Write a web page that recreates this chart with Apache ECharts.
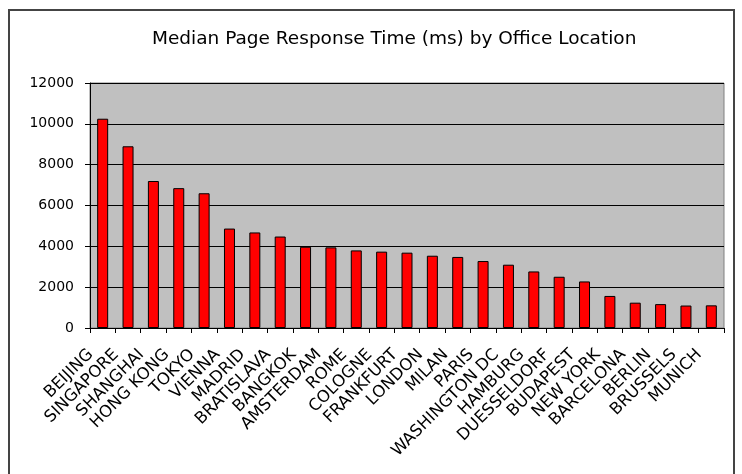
<!DOCTYPE html>
<html>
<head>
<meta charset="utf-8">
<script src="https://cdn.jsdelivr.net/npm/echarts@6/dist/echarts.min.js"></script>
<style>
html,body{margin:0;padding:0;background:#fff;}
#chart{width:742px;height:474px;}
</style>
</head>
<body>
<div id="chart"></div>
<script>
var titleText = 'Median Page Response Time (ms) by Office Location';
var categories = ['BEIJING','SINGAPORE','SHANGHAI','HONG KONG','TOKYO','VIENNA','MADRID','BRATISLAVA','BANGKOK','AMSTERDAM','ROME','COLOGNE','FRANKFURT','LONDON','MILAN','PARIS','WASHINGTON DC','HAMBURG','DUESSELDORF','BUDAPEST','NEW YORK','BARCELONA','BERLIN','BRUSSELS','MUNICH'];
var responseTimes = [10250,8900,7200,6850,6600,4870,4680,4480,3980,3950,3800,3740,3690,3540,3480,3280,3100,2770,2510,2280,1570,1240,1170,1100,1110];
var yMin = 0, yMax = 12000, yStep = 2000;

var chart = echarts.init(document.getElementById('chart'), null, {renderer:'canvas'});
chart.setOption({
  animation: false,
  backgroundColor: '#ffffff',
  textStyle: {fontFamily: 'DejaVu Sans'},
  graphic: [{
    type: 'rect',
    shape: {x: 9, y: 10, width: 725, height: 480},
    style: {fill: 'none', stroke: '#444444', lineWidth: 2},
    silent: true,
    z: -1
  }],
  title: {
    text: titleText,
    left: 147,
    top: 25,
    textStyle: {fontFamily: 'DejaVu Sans', fontSize: 18.5, fontWeight: 'normal', color: '#000'}
  },
  grid: {
    left: 90, top: 83, right: 18, bottom: 146,
    show: true, backgroundColor: '#C0C0C0', borderColor: '#808080', borderWidth: 1
  },
  xAxis: {
    type: 'category',
    data: categories,
    boundaryGap: true,
    axisLine: {show: true, lineStyle: {color: '#000', width: 1}},
    axisTick: {show: true, length: 5, alignWithLabel: false, interval: 0, lineStyle: {color: '#000'}},
    axisLabel: {interval: 0, rotate: 45, margin: 12, padding: [0, 17, 0, 0], fontSize: 16.5, color: '#000', fontFamily: 'DejaVu Sans'},
    splitLine: {show: false}
  },
  yAxis: {
    type: 'value',
    min: yMin, max: yMax, interval: yStep,
    axisLine: {show: true, lineStyle: {color: '#000', width: 1}},
    axisTick: {show: true, length: 5, lineStyle: {color: '#000'}},
    axisLabel: {margin: 16, fontSize: 14, color: '#000', fontFamily: 'DejaVu Sans', formatter: function (v) { return String(v); }},
    splitLine: {show: true, lineStyle: {color: '#000', width: 1}}
  },
  series: [{
    type: 'bar',
    data: responseTimes,
    barWidth: 11,
    itemStyle: {color: '#FF0000', borderColor: '#000', borderWidth: 1}
  }]
});
</script>
</body>
</html>
